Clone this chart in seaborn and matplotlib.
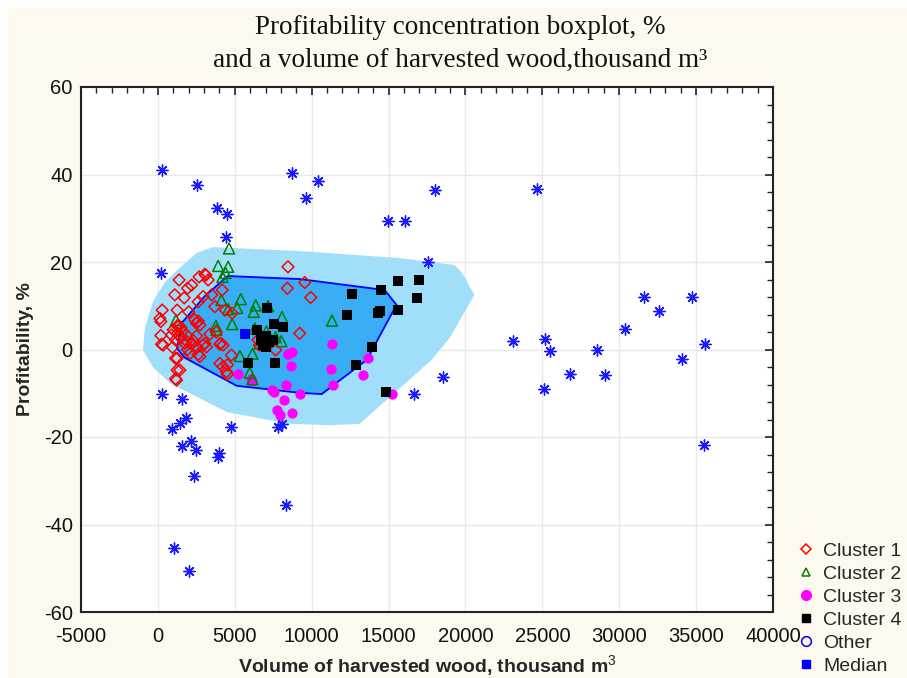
import numpy as np
import pandas as pd
import matplotlib
matplotlib.use("Agg")
import matplotlib.pyplot as plt
from matplotlib.lines import Line2D
from matplotlib.patches import Rectangle
from matplotlib.ticker import MultipleLocator
import seaborn as sns

# ---------------- data ----------------
cluster1_x = [1380, 2680, 3120, 3270, 1930, 2190, 1100, 1710, 2940, 4180, 2620, 3700, 4390, 2010, 1250,
              280, 130, 2620, 2730, 2510, 1320, 890, 190, 240, 340, 1150, 1280, 1490, 1860, 2510, 3380,
              1750, 2190, 2510, 2940, 3160, 4030, 4240, 1930, 2080, 2620, 1150, 4030, 4240, 4780, 4520,
              1250, 1150, 4520, 8460, 9550, 8420, 9940, 9220, 7660, 6510, 4830, 3050, 190, 2730, 4460,
              6600, 1000, 1500, 2400, 3500, 3800, 2300, 1600, 950, 1320, 1860, 3050, 4090, 1250, 1430, 1210]
cluster1_y = [15.9, 16.6, 17.0, 15.9, 14.0, 14.7, 12.5, 11.8, 12.1, 13.6, 10.9, 9.8, 9.0, 8.6, 9.0,
              9.0, 7.1, 6.5, 5.6, 6.0, 5.6, 3.3, 3.2, 1.2, 1.0, 2.2, 3.7, 2.7, 3.3, 3.1, 3.5,
              1.4, 1.2, 0.6, 1.0, 0.6, 1.2, 1.0, 0.0, -0.9, -1.1, -2.0, -3.2, -3.9, -1.3, -3.5,
              -4.7, -6.7, -5.7, 18.9, 15.3, 14.0, 11.9, 3.7, -0.1, 2.2, 8.3, 17.2, 6.4, -1.6, -5.1,
              1.0, 4.5, 5.0, 6.8, 12.5, 4.0, 2.0, 4.2, 0.5, 5.2, 1.9, 1.4, 1.4, -2.0, -4.7, -7.0]

cluster2_x = [4630, 3920, 4570, 4200, 5390, 4130, 4570, 5150, 6360, 6230, 7170, 8070, 4830, 3770,
              3810, 1170, 6300, 7060, 7660, 8030, 5330, 6150, 5970, 6150, 6620, 11320, 4400]
cluster2_y = [23.1, 19.1, 18.9, 16.6, 11.5, 11.3, 9.2, 9.5, 10.1, 8.6, 9.9, 7.4, 5.8, 5.4,
              4.5, 6.7, 4.8, 4.1, 2.8, 1.9, -1.5, -1.0, -5.3, -6.8, 1.4, 6.6, 17.5]

cluster3_x = [5240, 6150, 7420, 7580, 8360, 8200, 7770, 7920, 8720, 9240, 8490, 8720, 8680,
              11320, 11230, 11390, 13660, 13360, 15240, 6080, 8460]
cluster3_y = [-5.6, -7.1, -9.3, -9.8, -8.2, -11.5, -13.8, -15.0, -14.6, -10.2, -1.0, -0.6, -3.8,
              1.3, -4.4, -8.1, -1.9, -5.9, -10.2, -6.8, -1.1]

cluster4_x = [7120, 6450, 7530, 8140, 6730, 7060, 7230, 7490, 6840, 5860, 7600, 12640, 12320,
              14530, 14290, 14440, 15600, 16950, 16870, 15600, 13920, 12900, 14830, 7000]
cluster4_y = [9.6, 4.5, 5.8, 5.1, 2.2, 0.6, 1.8, 2.2, 1.0, -3.0, -3.0, 12.8, 8.0,
              13.5, 8.4, 8.8, 15.7, 15.8, 11.8, 9.0, 0.5, -3.5, -9.7, 3.0]

other_x = [24630, 23100, 25200, 25520, 25090, 26800, 28570, 29090, 30370, 31580, 32600, 34740,
           34070, 35560, 35500, 18050, 17560, 14940, 16040, 18510, 16680, 260, 200, 250, 2530,
           3830, 4480, 4400, 8700, 10390, 9610, 4780, 1560, 950, 1430, 1800, 1560, 2140, 2470,
           2340, 3900, 3960, 1040, 2010, 8310, 7790, 8050]
other_y = [36.8, 2.0, 2.3, -0.4, -9.1, -5.5, -0.1, -5.8, 4.6, 12.1, 8.9, 12.1,
           -2.2, 1.3, -21.8, 36.5, 19.9, 29.4, 29.4, -6.3, -10.2, 41.0, 17.4, -10.2, 37.6,
           32.3, 31.0, 25.8, 40.3, 38.5, 34.6, -17.8, -11.2, -18.2, -16.9, -15.6, -22.1, -20.9, -23.0,
           -28.9, -24.6, -23.7, -45.4, -50.6, -35.5, -17.7, -17.0]

median_x = [5650]
median_y = [3.5]

# concentration regions (bag / fence of the bivariate boxplot)
outer_x = [-974, -844, -325, 455, 1624, 2533, 3572, 9221, 15715, 19287, 19742, 20586, 18962,
           17794, 13118, 11170, 8572, 4481, 779, -325]
outer_y = [-0.1, 4.9, 10.9, 15.4, 19.3, 22.1, 23.4, 22.5, 20.9, 19.3, 17.7, 12.5, 2.6,
           -2.4, -17.0, -17.3, -17.0, -14.3, -7.7, -4.0]
inner_x = [4546, 9221, 14741, 15520, 13573, 11170, 10650, 9221, 5130, 1753, 1234, 1559, 3052]
inner_y = [16.8, 16.1, 13.6, 10.2, -2.4, -8.8, -10.2, -9.9, -8.3, -1.9, 0.3, 6.1, 12.2]

x_ticks = [-5000, 0, 5000, 10000, 15000, 20000, 25000, 30000, 35000, 40000]
y_ticks = [-60, -40, -20, 0, 20, 40, 60]

# ---------------- style ----------------
sns.set_theme(style="white")
plt.rcParams['font.family'] = ['Liberation Sans', 'DejaVu Sans']
plt.rcParams['mathtext.fontset'] = 'custom'
plt.rcParams['mathtext.rm'] = 'Liberation Sans'
plt.rcParams['axes.unicode_minus'] = False

fig = plt.figure(figsize=(9.07, 6.78), dpi=100, facecolor='white')
fig.patches.append(Rectangle((8 / 907, 0), 1, 1 - 8 / 678, transform=fig.transFigure,
                             facecolor='#fdf9ee', edgecolor='none', zorder=-10))
ax = fig.add_axes([81 / 907, 66 / 678, 692 / 907, 525 / 678])
ax.set_facecolor('white')

ax.fill(outer_x, outer_y, color='#a0defa', lw=0, zorder=1)
ax.fill(inner_x, inner_y, facecolor='#3aaef5', edgecolor='#0000ff', lw=1.3, zorder=2)

df1 = pd.DataFrame({'x': cluster1_x, 'y': cluster1_y})
df2 = pd.DataFrame({'x': cluster2_x, 'y': cluster2_y})
df3 = pd.DataFrame({'x': cluster3_x, 'y': cluster3_y})
df4 = pd.DataFrame({'x': cluster4_x, 'y': cluster4_y})
dfo = pd.DataFrame({'x': other_x, 'y': other_y})
dfm = pd.DataFrame({'x': median_x, 'y': median_y})

sns.scatterplot(data=dfo, x='x', y='y', ax=ax, marker=(8, 2, 0), s=65, color='#1a1aff',
                linewidth=1.0, zorder=3, legend=False)
sns.scatterplot(data=df3, x='x', y='y', ax=ax, marker='o', s=55, color='#ff00ff',
                edgecolor='#ff00ff', linewidth=0, zorder=4, legend=False)
sns.scatterplot(data=df2, x='x', y='y', ax=ax, marker='^', s=62, facecolor='none',
                edgecolor='#008000', linewidth=1.1, zorder=5, legend=False)
sns.scatterplot(data=df1, x='x', y='y', ax=ax, marker='D', s=36, facecolor='none',
                edgecolor='#ff0000', linewidth=1.1, zorder=6, legend=False)
sns.scatterplot(data=df4, x='x', y='y', ax=ax, marker='s', s=50, color='black',
                edgecolor='black', linewidth=0, zorder=7, legend=False)
sns.scatterplot(data=dfm, x='x', y='y', ax=ax, marker='s', s=60, color='#0000ff',
                edgecolor='#0000ff', linewidth=0, zorder=8, legend=False)

ax.set_xlim(-5000, 40000)
ax.set_ylim(-60, 60)
ax.set_xticks(x_ticks)
ax.set_yticks(y_ticks)
ax.xaxis.set_minor_locator(MultipleLocator(1000))
ax.yaxis.set_minor_locator(MultipleLocator(4))
ax.grid(True, which='major', color='#e8e8e8', lw=1.0, zorder=0)
ax.set_axisbelow(True)
ax.tick_params(which='both', direction='in', top=True, right=True, color='#222222',
               labelsize=14.5, labelcolor='#111111')
ax.tick_params(axis='x', which='both', pad=11)
ax.tick_params(axis='y', which='both', pad=6)
ax.tick_params(which='major', length=6, width=1.2)
ax.tick_params(which='minor', length=4, width=1.0)
for sp in ax.spines.values():
    sp.set_color('#222222')
    sp.set_linewidth(1.5)

ax.set_xlabel(r"Volume of harvested wood, thousand m$^3$", fontsize=14, fontweight='bold', labelpad=5)
ax.set_ylabel("Profitability, %", fontsize=14, fontweight='bold', labelpad=7)

fig.text(0.507, 0.978, "Profitability concentration boxplot, %\nand a volume of harvested wood,thousand m³",
         ha='center', va='top', fontsize=19.5, family=['Liberation Serif', 'DejaVu Serif'],
         linespacing=1.4, color='#111111')

handles = [
    Line2D([], [], ls='none', marker='D', ms=5.5, mfc='none', mec='#ff0000', mew=1.1),
    Line2D([], [], ls='none', marker='^', ms=6, mfc='none', mec='#008000', mew=1.1),
    Line2D([], [], ls='none', marker='o', ms=7, mfc='#ff00ff', mec='#ff00ff'),
    Line2D([], [], ls='none', marker='s', ms=6, mfc='black', mec='black'),
    Line2D([], [], ls='none', marker='o', ms=7, mfc='none', mec='#0000ff', mew=1.1),
    Line2D([], [], ls='none', marker='s', ms=6, mfc='#0000ff', mec='#0000ff'),
]
labels = ["Cluster 1", "Cluster 2", "Cluster 3", "Cluster 4", "Other", "Median"]
fig.legend(handles, labels, loc='upper left', bbox_to_anchor=(798 / 907, 1 - 542 / 678),
           frameon=False, fontsize=14, handlelength=0.8, handletextpad=0.5,
           labelspacing=0.28, borderaxespad=0, borderpad=0)

fig.savefig("out.png", dpi=100, facecolor=fig.get_facecolor())
